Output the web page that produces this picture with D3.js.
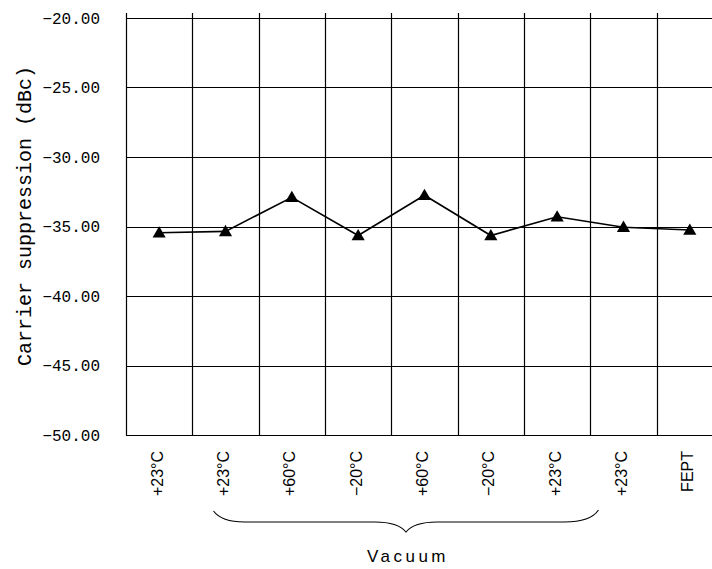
<!DOCTYPE html>
<html>
<head>
<meta charset="utf-8">
<script src="https://cdn.jsdelivr.net/npm/d3@7"></script>
<style>
  body { margin: 0; background: #fff; }
  svg { display: block; overflow: hidden; }
</style>
</head>
<body>
<div id="chart"></div>
<script>
// data
const categories = ["+23°C", "+23°C", "+60°C", "\u221220°C", "+60°C", "\u221220°C", "+23°C", "+23°C", "FEPT"];
const suppression = [-35.45, -35.35, -32.9, -35.65, -32.75, -35.65, -34.3, -35.05, -35.25];
const yTicks = [-20, -25, -30, -35, -40, -45, -50];
const yTitle = "Carrier suppression (dBc)";
const groupLabel = "Vacuum";
// brace spans categories 2..8
const braceFrom = 1, braceTo = 7;

const margin = { top: 18, left: 126, bottom: 134 },
    W = 712, H = 569,
    bandW = 66.33,
    width = bandW * categories.length,
    height = H - margin.top - margin.bottom;

const svg = d3.select("#chart")
    .append("svg")
    .attr("width", W)
    .attr("height", H);

const g = svg.append("g")
    .attr("transform", "translate(" + margin.left + "," + margin.top + ")");

const x = d3.scaleBand()
    .domain(d3.range(categories.length))
    .range([0, width]);

const y = d3.scaleLinear()
    .domain([-50, -20])
    .range([height, 0]);

// horizontal grid lines
g.append("g")
    .selectAll("line")
    .data(yTicks)
    .enter()
    .append("line")
    .attr("x1", 0)
    .attr("x2", width)
    .attr("y1", d => Math.round(y(d)) + 0.5)
    .attr("y2", d => Math.round(y(d)) + 0.5)
    .attr("stroke", "#000")
    .attr("stroke-width", 1.2);

// vertical grid lines (band edges), sticking a little above the top
g.append("g")
    .selectAll("line")
    .data(d3.range(categories.length + 1))
    .enter()
    .append("line")
    .attr("x1", d => Math.round(d * bandW) + 0.5)
    .attr("x2", d => Math.round(d * bandW) + 0.5)
    .attr("y1", -5)
    .attr("y2", height)
    .attr("stroke", "#000")
    .attr("stroke-width", 1.2);

// y tick labels
g.append("g")
    .selectAll("text")
    .data(yTicks)
    .enter()
    .append("text")
    .attr("x", -26)
    .attr("y", d => y(d))
    .attr("dy", "0.35em")
    .attr("text-anchor", "end")
    .attr("font-family", "Liberation Mono, DejaVu Sans Mono, monospace")
    .attr("font-size", 16)
    .attr("fill", "#000")
    .text(d => "\u2212" + Math.abs(d).toFixed(2));

// y title
svg.append("text")
    .attr("transform", "translate(24," + 216 + ") rotate(-90)")
    .attr("text-anchor", "middle")
    .attr("dy", "0.35em")
    .attr("font-family", "Liberation Mono, DejaVu Sans Mono, monospace")
    .attr("font-size", 20)
    .attr("fill", "#000")
    .text(yTitle);

// x tick labels (rotated)
g.append("g")
    .selectAll("text")
    .data(categories)
    .enter()
    .append("text")
    .attr("transform", (d, i) => "translate(" + (x(i) + x.bandwidth() / 2 - 2) + "," + (height + 16) + ") rotate(-90)")
    .attr("text-anchor", "end")
    .attr("dy", "0.35em")
    .attr("font-family", "Liberation Sans, Arial, sans-serif")
    .attr("font-size", 16)
    .attr("fill", "#000")
    .text(d => d);

// line
const line = d3.line()
    .x((d, i) => x(i) + x.bandwidth() / 2)
    .y(d => y(d));

g.append("path")
    .datum(suppression)
    .attr("d", line)
    .attr("fill", "none")
    .attr("stroke", "#000")
    .attr("stroke-width", 1.6);

// triangle markers
g.append("g")
    .selectAll("path")
    .data(suppression)
    .enter()
    .append("path")
    .attr("d", d3.symbol().type(d3.symbolTriangle).size(75))
    .attr("transform", (d, i) => "translate(" + (x(i) + x.bandwidth() / 2) + "," + (y(d) + 1) + ")")
    .attr("fill", "#000");

// curly brace under the vacuum steps
const bx0 = x(braceFrom) + x.bandwidth() / 2 - 12,
    bx1 = x(braceTo) + x.bandwidth() / 2 - 25,
    bm = (bx0 + bx1) / 2,
    by0 = height + 76,
    by1 = height + 87,
    by2 = height + 97;

const brace = d3.path();
brace.moveTo(bx0, by0);
brace.quadraticCurveTo(bx0 + 8, by1, bx0 + 31, by1);
brace.lineTo(bm - 31, by1);
brace.quadraticCurveTo(bm - 8, by1, bm, by2);
brace.quadraticCurveTo(bm + 8, by1, bm + 31, by1);
brace.lineTo(bx1 - 34, by1);
brace.quadraticCurveTo(bx1 - 8, by1, bx1, by0 - 1);

g.append("path")
    .attr("d", brace.toString())
    .attr("fill", "none")
    .attr("stroke", "#000")
    .attr("stroke-width", 1.1);

// group label
g.append("text")
    .attr("x", bm + 2)
    .attr("y", height + 127)
    .attr("text-anchor", "middle")
    .attr("font-family", "Liberation Sans, Arial, sans-serif")
    .attr("font-size", 17)
    .attr("letter-spacing", 3.5)
    .attr("fill", "#000")
    .text(groupLabel);
</script>
</body>
</html>
